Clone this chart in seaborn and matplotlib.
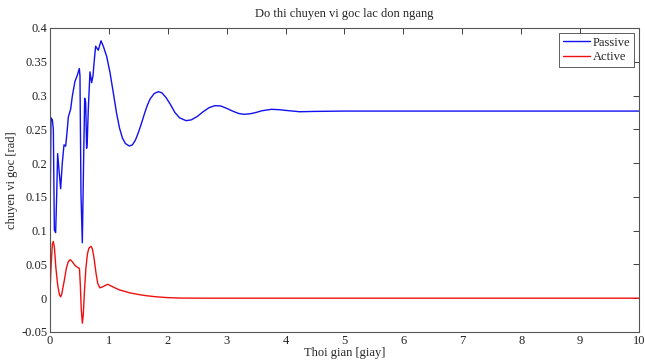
import matplotlib
matplotlib.use("Agg")
import matplotlib.pyplot as plt
import seaborn as sns
import pandas as pd
from matplotlib.ticker import FormatStrFormatter, MultipleLocator

# ---- data ----
passive_t = [0.0, 0.017, 0.04, 0.057, 0.074, 0.096, 0.113, 0.13, 0.153, 0.181, 0.209,
             0.238, 0.266, 0.294, 0.311, 0.351, 0.379, 0.424, 0.464, 0.498, 0.509,
             0.526, 0.549, 0.572, 0.589, 0.606, 0.622, 0.634, 0.65, 0.679, 0.707,
             0.73, 0.753, 0.775, 0.82, 0.866, 0.905, 0.962, 1.019, 1.075, 1.13,
             1.18, 1.23, 1.28, 1.347, 1.40, 1.45, 1.5, 1.55, 1.6, 1.65, 1.7, 1.77,
             1.84, 1.9, 1.97, 2.05, 2.12, 2.2, 2.31, 2.4, 2.5, 2.6, 2.7, 2.8, 2.9,
             3.0, 3.1, 3.2, 3.29, 3.4, 3.5, 3.6, 3.76, 3.9, 4.0, 4.24, 4.5, 5.0,
             6.0, 7.0, 8.0, 9.0, 10.0]
passive_y = [0.10, 0.267, 0.264, 0.25, 0.101, 0.097, 0.15, 0.214, 0.19, 0.162, 0.20,
             0.227, 0.225, 0.25, 0.268, 0.28, 0.299, 0.321, 0.33, 0.34, 0.329,
             0.155, 0.082, 0.21, 0.296, 0.29, 0.222, 0.235, 0.279, 0.335, 0.319,
             0.329, 0.353, 0.373, 0.367, 0.381, 0.373, 0.358, 0.334, 0.304, 0.274,
             0.252, 0.237, 0.229, 0.2253, 0.227, 0.234, 0.245, 0.258, 0.272, 0.285,
             0.295, 0.303, 0.3057, 0.304, 0.297, 0.286, 0.275, 0.267, 0.2628, 0.264,
             0.269, 0.276, 0.282, 0.285, 0.2845, 0.281, 0.277, 0.2735, 0.2722, 0.273,
             0.275, 0.2775, 0.2796, 0.279, 0.278, 0.276, 0.2765, 0.277, 0.277, 0.277,
             0.277, 0.277, 0.277]

active_t = [0.0, 0.02, 0.04, 0.056, 0.075, 0.1, 0.13, 0.16, 0.18, 0.2, 0.24, 0.28,
            0.31, 0.343, 0.38, 0.42, 0.46, 0.5, 0.515, 0.53, 0.549, 0.565, 0.585,
            0.61, 0.635, 0.66, 0.697, 0.72, 0.75, 0.78, 0.81, 0.846, 0.9, 0.95,
            0.983, 1.05, 1.12, 1.19, 1.27, 1.35, 1.45, 1.53, 1.65, 1.81, 2.0, 2.2,
            2.5, 10.0]
active_y = [0.01, 0.05, 0.08, 0.084, 0.075, 0.045, 0.02, 0.005, 0.002, 0.006, 0.025,
            0.045, 0.054, 0.057, 0.054, 0.049, 0.046, 0.044, 0.02, -0.015, -0.037,
            -0.025, 0.01, 0.045, 0.065, 0.074, 0.0767, 0.073, 0.058, 0.038, 0.022,
            0.0153, 0.017, 0.0195, 0.0205, 0.0175, 0.0145, 0.012, 0.010, 0.008,
            0.0063, 0.005, 0.0035, 0.002, 0.0008, 0.0002, 0.0, 0.0]

series_names = ["Passive", "Active"]
title = "Do thi chuyen vi goc lac don ngang"
xlabel = "Thoi gian [giay]"
ylabel = "chuyen vi goc [rad]"

df = pd.concat([
    pd.DataFrame({"t": passive_t, "y": passive_y, "s": series_names[0]}),
    pd.DataFrame({"t": active_t, "y": active_y, "s": series_names[1]}),
], ignore_index=True)

sns.set_style("white")
plt.rcParams["font.family"] = ["Liberation Serif", "DejaVu Serif"]
plt.rcParams["font.size"] = 8

fig = plt.figure(figsize=(6.45, 3.62), dpi=100)
ax = fig.add_axes([0.0775, 0.083, 0.9132, 0.8397])

sns.lineplot(data=df, x="t", y="y", hue="s", palette={"Passive": "#1010f0", "Active": "#f01010"},
             linewidth=1.0, ax=ax, sort=False, estimator=None, legend=True)

ax.set_xlim(0, 10)
ax.set_ylim(-0.05, 0.4)
ax.xaxis.set_major_locator(MultipleLocator(1))
ax.yaxis.set_major_locator(MultipleLocator(0.05))
ax.yaxis.set_major_formatter(FormatStrFormatter("%g"))
ax.tick_params(direction="in", length=4, width=0.6, top=True, right=True,
               labelsize=9, colors="#222222", pad=2)
for sp in ax.spines.values():
    sp.set_visible(True)
    sp.set_color("#555555")
    sp.set_linewidth(0.8)

ax.set_title(title, fontsize=9, pad=8)
ax.set_xlabel(xlabel, fontsize=9, labelpad=0)
ax.set_ylabel(ylabel, fontsize=9, labelpad=2)

leg = ax.legend(loc="upper right", fontsize=9, frameon=True, fancybox=False,
                framealpha=1, edgecolor="#444444", handlelength=2.2,
                borderpad=0.3, labelspacing=0.2, handletextpad=0.2,
                borderaxespad=0.4)
leg.get_frame().set_linewidth(0.6)

fig.savefig("out.png", dpi=100)
